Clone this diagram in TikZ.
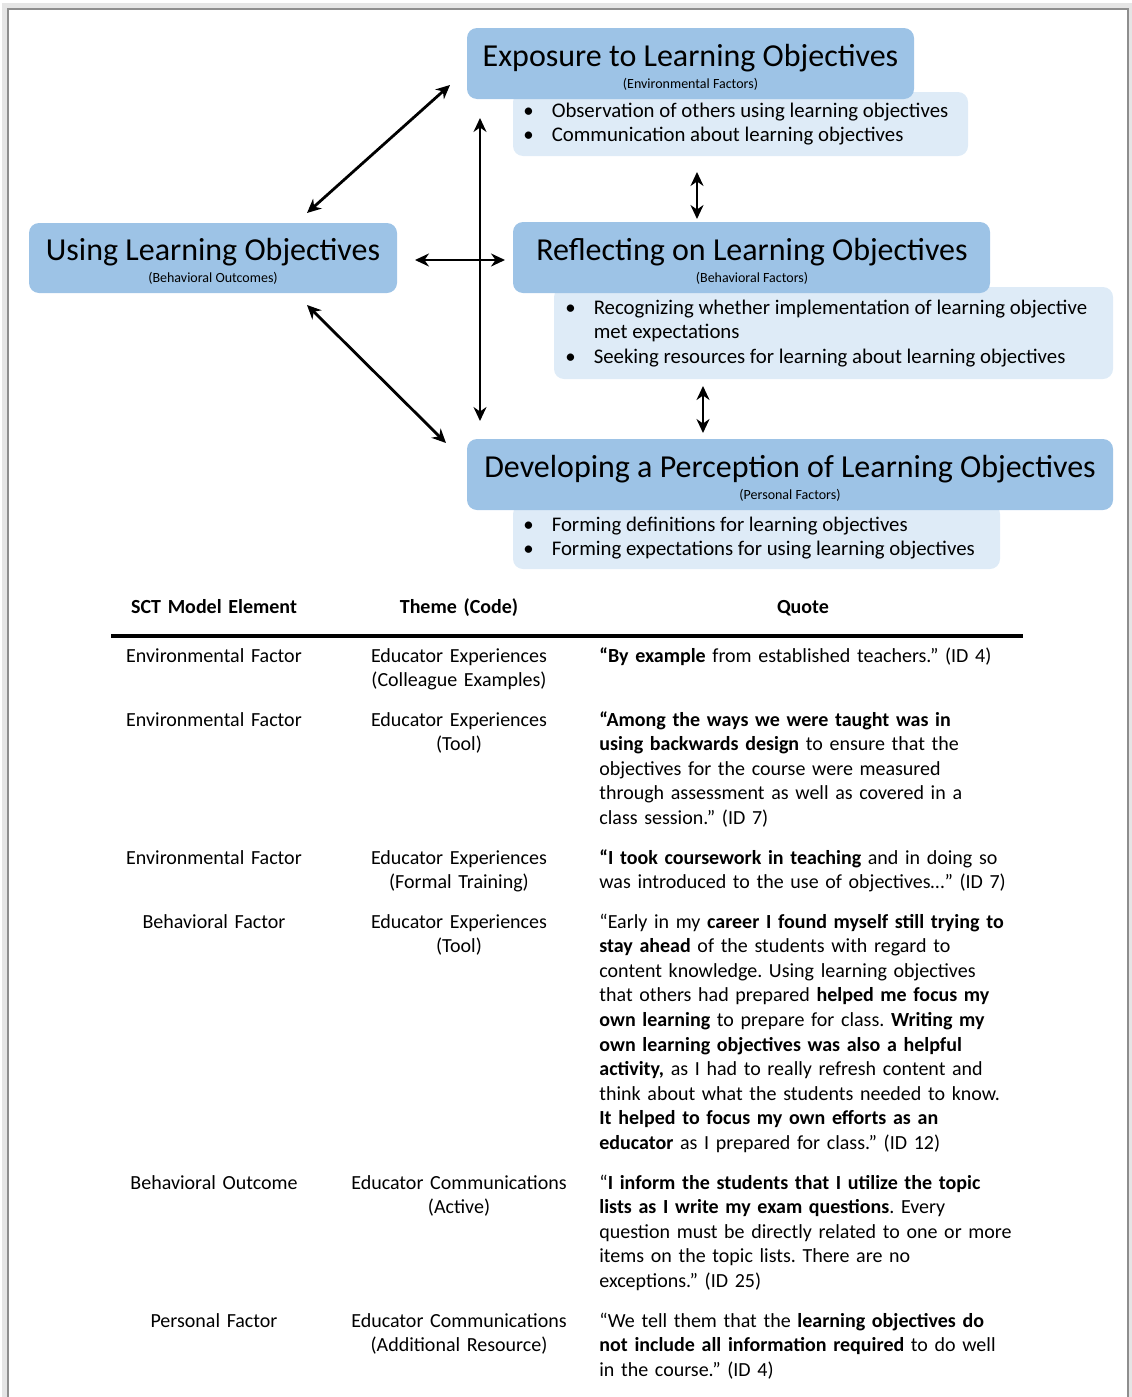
\documentclass[tikz,border=0pt]{standalone}
\usepackage{fontspec}
\setmainfont{Carlito}
\usetikzlibrary{arrows.meta, positioning, calc}
\definecolor{titleblue}{HTML}{9DC3E6}
\definecolor{listblue}{HTML}{DEEBF7}
\definecolor{pageframe}{HTML}{8E8E8E}
\frenchspacing

\tikzset{
  titlebox/.style={rectangle, rounded corners=5pt, fill=titleblue, inner sep=0pt},
  listbox/.style={rectangle, rounded corners=5pt, fill=listblue, inner sep=0pt},
  heading/.style={anchor=base, inner sep=0pt, font=\fontsize{16}{19}\selectfont},
  factor/.style={anchor=base, inner sep=0pt, font=\fontsize{7}{8.5}\selectfont},
  bullets/.style={anchor=base west, inner sep=0pt, font=\fontsize{10.4}{12.4}\selectfont},
  cell/.style={anchor=base, inner sep=0pt, text width=130pt, align=center},
  quotecell/.style={anchor=base west, inner sep=0pt, text width=225pt, align=left},
  dbl/.style={{Stealth[length=7pt,width=6.5pt]}-{Stealth[length=7pt,width=6.5pt]}, line width=1.4pt},
}

\begin{document}
\begin{tikzpicture}[x=0.5pt, y=-0.5pt, font=\fontsize{10}{12.3}\selectfont]
    \useasboundingbox (0,0) rectangle (1131,1397);

    % page frame
    \draw[black!10, line width=3pt] (5,1397) -- (5,6) -- (1131,6) -- (1131,1397);
    \draw[pageframe, line width=1pt] (8,1397) -- (8,9) -- (1128,9) -- (1128,1397);

    % light boxes with the codes
    \node (expoList) [listbox, minimum width=227.5pt, minimum height=32pt] at (740.5,124) {};
    \node (reflList) [listbox, minimum width=279.5pt, minimum height=46pt] at (833.5,333) {};
    \node (devList) [listbox, minimum width=243.5pt, minimum height=32.5pt] at (756.5,536.5) {};

    % the four themes
    \node (expo) [titlebox, minimum width=223.5pt, minimum height=35.5pt] at (690.5,63.5) {};
    \node (use) [titlebox, minimum width=184pt, minimum height=35pt] at (213,258) {};
    \node (refl) [titlebox, minimum width=238.5pt, minimum height=35.5pt] at (751.5,257.5) {};
    \node (dev) [titlebox, minimum width=323pt, minimum height=35.5pt] at (790,474.5) {};

    \node (expoTitle) [heading] at (690.5,66) {Exposure to Learning Objectives};
    \node (expoSub) [factor] at (690.5,88) {(Environmental Factors)};
    \node (useTitle) [heading] at (213,260) {Using Learning Objectives};
    \node (useSub) [factor] at (213,282) {(Behavioral Outcomes)};
    \node (reflTitle) [heading] at (752,260) {Reflecting on Learning Objectives};
    \node (reflSub) [factor] at (752,282) {(Behavioral Factors)};
    \node (devTitle) [heading] at (790,477) {Developing a Perception of Learning Objectives};
    \node (devSub) [factor] at (790,499) {(Personal Factors)};

    \node (expoItems) [bullets] at (523,117) {\begin{tabular}[t]{@{}l@{\hspace{9pt}}l@{}}
        • & Observation of others using learning objectives\\
        • & Communication about learning objectives
    \end{tabular}};
    \node (reflItems) [bullets] at (565,314) {\begin{tabular}[t]{@{}l@{\hspace{9pt}}l@{}}
        • & Recognizing whether implementation of learning objective\\
          & met expectations\\
        • & Seeking resources for learning about learning objectives
    \end{tabular}};
    \node (devItems) [bullets] at (523,531) {\begin{tabular}[t]{@{}l@{\hspace{9pt}}l@{}}
        • & Forming definitions for learning objectives\\
        • & Forming expectations for using learning objectives
    \end{tabular}};

    % arrows
    \coordinate (useTop) at (307,213);
    \coordinate (expoLeft) at (450,85);
    \coordinate (useLow) at (307,305);
    \coordinate (devLeft) at (446,443);
    \coordinate (useRight) at (415,260);
    \coordinate (reflLeft) at (505,260);
    \coordinate (crossTop) at (480,118);
    \coordinate (crossLow) at (480,421);
    \coordinate (expoBelow) at (697,172);
    \coordinate (reflAbove) at (697,219);
    \coordinate (reflBelow) at (703,386);
    \coordinate (devAbove) at (703,433);

    \draw[dbl] (useTop) -- (expoLeft);
    \draw[dbl] (useLow) -- (devLeft);
    \draw[dbl] (useRight) -- (reflLeft);
    \draw[dbl] (crossTop) -- (crossLow);
    \draw[dbl] (expoBelow) -- (reflAbove);
    \draw[dbl] (reflBelow) -- (devAbove);

    % table
    \node (hElement) [cell, font=\bfseries] at (214,613) {SCT Model Element};
    \node (hTheme) [cell, font=\bfseries] at (459,613) {Theme (Code)};
    \node (hQuote) [cell, font=\bfseries] at (803,613) {Quote};
    \coordinate (ruleL) at (111,636);
    \coordinate (ruleR) at (1023,636);
    \draw[line width=2pt] (ruleL) -- (ruleR);

    \node (e1) [cell] at (214,662) {Environmental Factor};
    \node (t1) [cell] at (459,662) {Educator Experiences\\(Colleague Examples)};
    \node (q1) [quotecell] at (599,662) {\textbf{“By example} from established teachers.” (ID 4)};

    \node (e2) [cell] at (214,726) {Environmental Factor};
    \node (t2) [cell] at (459,726) {Educator Experiences\\(Tool)};
    \node (q2) [quotecell] at (599,726) {\textbf{“Among the ways we were taught was in}\\
        \textbf{using backwards design} to ensure that the\\
        objectives for the course were measured\\
        through assessment as well as covered in a\\
        class session.” (ID 7)};

    \node (e3) [cell] at (214,864) {Environmental Factor};
    \node (t3) [cell] at (459,864) {Educator Experiences\\(Formal Training)};
    \node (q3) [quotecell] at (599,864) {\textbf{“I took coursework in teaching} and in doing so\\
        was introduced to the use of objectives…” (ID 7)};

    \node (e4) [cell] at (214,928) {Behavioral Factor};
    \node (t4) [cell] at (459,928) {Educator Experiences\\(Tool)};
    \node (q4) [quotecell] at (599,928) {“Early in my \textbf{career I found myself still trying to}\\
        \textbf{stay ahead} of the students with regard to\\
        content knowledge. Using learning objectives\\
        that others had prepared \textbf{helped me focus my}\\
        \textbf{own learning} to prepare for class. \textbf{Writing my}\\
        \textbf{own learning objectives was also a helpful}\\
        \textbf{activity,} as I had to really refresh content and\\
        think about what the students needed to know.\\
        \textbf{It helped to focus my own efforts as an}\\
        \textbf{educator} as I prepared for class.” (ID 12)};

    \node (e5) [cell] at (214,1189) {Behavioral Outcome};
    \node (t5) [cell] at (459,1189) {Educator Communications\\(Active)};
    \node (q5) [quotecell] at (599,1189) {“\textbf{I inform the students that I utilize the topic}\\
        \textbf{lists as I write my exam questions}. Every\\
        question must be directly related to one or more\\
        items on the topic lists. There are no\\
        exceptions.” (ID 25)};

    \node (e6) [cell] at (214,1327) {Personal Factor};
    \node (t6) [cell] at (459,1327) {Educator Communications\\(Additional Resource)};
    \node (q6) [quotecell] at (599,1327) {“We tell them that the \textbf{learning objectives do}\\
        \textbf{not include all information required} to do well\\
        in the course.” (ID 4)};
\end{tikzpicture}
\end{document}
